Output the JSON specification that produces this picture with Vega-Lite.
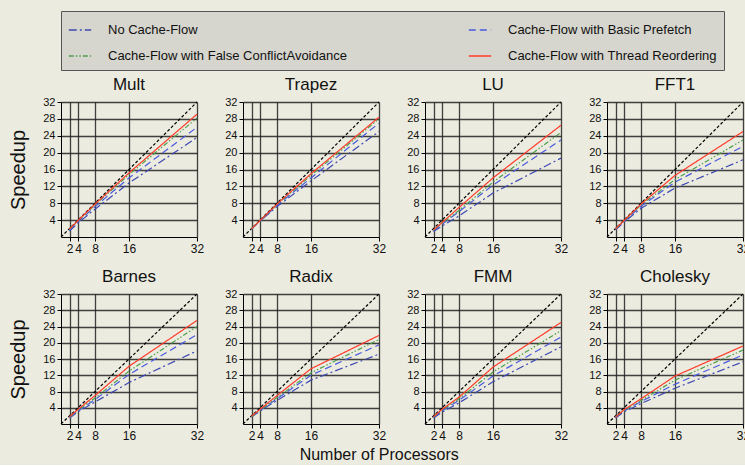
{
"$schema":"https://vega.github.io/schema/vega-lite/v6.json",
"background":"#ECEBDF",
"padding":{"left":8,"top":10,"right":0,"bottom":2},
"title":{"text":"Number of Processors","orient":"bottom","anchor":"middle","fontSize":16,"fontWeight":"normal","font":"Liberation Sans","color":"#111","offset":6},
"datasets":{
"ideal":[{"x":0,"y":0},{"x":32,"y":32}],
"perf":[
{"b":"Mult","s":"N","x":2,"y":1.4},{"b":"Mult","s":"N","x":4,"y":3.3},{"b":"Mult","s":"N","x":8,"y":6.6},{"b":"Mult","s":"N","x":16,"y":12.8},{"b":"Mult","s":"N","x":32,"y":23.6},
{"b":"Mult","s":"P","x":2,"y":1.6},{"b":"Mult","s":"P","x":4,"y":3.6},{"b":"Mult","s":"P","x":8,"y":7.2},{"b":"Mult","s":"P","x":16,"y":14},{"b":"Mult","s":"P","x":32,"y":26},
{"b":"Mult","s":"F","x":2,"y":1.8},{"b":"Mult","s":"F","x":4,"y":3.8},{"b":"Mult","s":"F","x":8,"y":7.6},{"b":"Mult","s":"F","x":16,"y":14.8},{"b":"Mult","s":"F","x":32,"y":28.2},
{"b":"Mult","s":"T","x":2,"y":1.9},{"b":"Mult","s":"T","x":4,"y":3.9},{"b":"Mult","s":"T","x":8,"y":7.8},{"b":"Mult","s":"T","x":16,"y":15.2},{"b":"Mult","s":"T","x":32,"y":29.1},
{"b":"Trapez","s":"N","x":2,"y":1.9},{"b":"Trapez","s":"N","x":4,"y":3.8},{"b":"Trapez","s":"N","x":8,"y":7.2},{"b":"Trapez","s":"N","x":16,"y":13.3},{"b":"Trapez","s":"N","x":32,"y":25},
{"b":"Trapez","s":"P","x":2,"y":1.9},{"b":"Trapez","s":"P","x":4,"y":3.8},{"b":"Trapez","s":"P","x":8,"y":7.5},{"b":"Trapez","s":"P","x":16,"y":14},{"b":"Trapez","s":"P","x":32,"y":27},
{"b":"Trapez","s":"F","x":2,"y":1.95},{"b":"Trapez","s":"F","x":4,"y":3.9},{"b":"Trapez","s":"F","x":8,"y":7.7},{"b":"Trapez","s":"F","x":16,"y":14.6},{"b":"Trapez","s":"F","x":32,"y":28},
{"b":"Trapez","s":"T","x":2,"y":1.95},{"b":"Trapez","s":"T","x":4,"y":3.9},{"b":"Trapez","s":"T","x":8,"y":7.8},{"b":"Trapez","s":"T","x":16,"y":15},{"b":"Trapez","s":"T","x":32,"y":28.4},
{"b":"LU","s":"N","x":2,"y":1.3},{"b":"LU","s":"N","x":4,"y":2.6},{"b":"LU","s":"N","x":8,"y":5.0},{"b":"LU","s":"N","x":16,"y":10.4},{"b":"LU","s":"N","x":32,"y":18.7},
{"b":"LU","s":"P","x":2,"y":1.5},{"b":"LU","s":"P","x":4,"y":3.0},{"b":"LU","s":"P","x":8,"y":6.0},{"b":"LU","s":"P","x":16,"y":12.3},{"b":"LU","s":"P","x":32,"y":23},
{"b":"LU","s":"F","x":2,"y":1.6},{"b":"LU","s":"F","x":4,"y":3.2},{"b":"LU","s":"F","x":8,"y":6.3},{"b":"LU","s":"F","x":16,"y":13},{"b":"LU","s":"F","x":32,"y":24.8},
{"b":"LU","s":"T","x":2,"y":1.7},{"b":"LU","s":"T","x":4,"y":3.4},{"b":"LU","s":"T","x":8,"y":7},{"b":"LU","s":"T","x":16,"y":14},{"b":"LU","s":"T","x":32,"y":26.5},
{"b":"FFT1","s":"N","x":2,"y":1.7},{"b":"FFT1","s":"N","x":4,"y":3.5},{"b":"FFT1","s":"N","x":8,"y":6.8},{"b":"FFT1","s":"N","x":16,"y":11.6},{"b":"FFT1","s":"N","x":32,"y":18.3},
{"b":"FFT1","s":"P","x":2,"y":1.8},{"b":"FFT1","s":"P","x":4,"y":3.7},{"b":"FFT1","s":"P","x":8,"y":7.3},{"b":"FFT1","s":"P","x":16,"y":13},{"b":"FFT1","s":"P","x":32,"y":21.5},
{"b":"FFT1","s":"F","x":2,"y":1.9},{"b":"FFT1","s":"F","x":4,"y":3.8},{"b":"FFT1","s":"F","x":8,"y":7.6},{"b":"FFT1","s":"F","x":16,"y":13.6},{"b":"FFT1","s":"F","x":32,"y":23},
{"b":"FFT1","s":"T","x":2,"y":1.9},{"b":"FFT1","s":"T","x":4,"y":3.9},{"b":"FFT1","s":"T","x":8,"y":7.8},{"b":"FFT1","s":"T","x":16,"y":14.6},{"b":"FFT1","s":"T","x":32,"y":25},
{"b":"Barnes","s":"N","x":2,"y":1.5},{"b":"Barnes","s":"N","x":4,"y":3.0},{"b":"Barnes","s":"N","x":8,"y":5.4},{"b":"Barnes","s":"N","x":16,"y":10.2},{"b":"Barnes","s":"N","x":32,"y":18},
{"b":"Barnes","s":"P","x":2,"y":1.6},{"b":"Barnes","s":"P","x":4,"y":3.2},{"b":"Barnes","s":"P","x":8,"y":6.0},{"b":"Barnes","s":"P","x":16,"y":12.2},{"b":"Barnes","s":"P","x":32,"y":22},
{"b":"Barnes","s":"F","x":2,"y":1.7},{"b":"Barnes","s":"F","x":4,"y":3.4},{"b":"Barnes","s":"F","x":8,"y":6.4},{"b":"Barnes","s":"F","x":16,"y":13},{"b":"Barnes","s":"F","x":32,"y":24},
{"b":"Barnes","s":"T","x":2,"y":1.8},{"b":"Barnes","s":"T","x":4,"y":3.6},{"b":"Barnes","s":"T","x":8,"y":7},{"b":"Barnes","s":"T","x":16,"y":14.2},{"b":"Barnes","s":"T","x":32,"y":25.5},
{"b":"Radix","s":"N","x":2,"y":1.7},{"b":"Radix","s":"N","x":4,"y":3.2},{"b":"Radix","s":"N","x":8,"y":5.8},{"b":"Radix","s":"N","x":16,"y":10.8},{"b":"Radix","s":"N","x":32,"y":17.2},
{"b":"Radix","s":"P","x":2,"y":1.8},{"b":"Radix","s":"P","x":4,"y":3.3},{"b":"Radix","s":"P","x":8,"y":6.2},{"b":"Radix","s":"P","x":16,"y":12},{"b":"Radix","s":"P","x":32,"y":19.5},
{"b":"Radix","s":"F","x":2,"y":1.8},{"b":"Radix","s":"F","x":4,"y":3.4},{"b":"Radix","s":"F","x":8,"y":6.5},{"b":"Radix","s":"F","x":16,"y":12.6},{"b":"Radix","s":"F","x":32,"y":20.8},
{"b":"Radix","s":"T","x":2,"y":1.9},{"b":"Radix","s":"T","x":4,"y":3.6},{"b":"Radix","s":"T","x":8,"y":7},{"b":"Radix","s":"T","x":16,"y":13.6},{"b":"Radix","s":"T","x":32,"y":21.8},
{"b":"FMM","s":"N","x":2,"y":1.5},{"b":"FMM","s":"N","x":4,"y":2.9},{"b":"FMM","s":"N","x":8,"y":5.2},{"b":"FMM","s":"N","x":16,"y":10.4},{"b":"FMM","s":"N","x":32,"y":19},
{"b":"FMM","s":"P","x":2,"y":1.6},{"b":"FMM","s":"P","x":4,"y":3.2},{"b":"FMM","s":"P","x":8,"y":5.8},{"b":"FMM","s":"P","x":16,"y":11.8},{"b":"FMM","s":"P","x":32,"y":21.4},
{"b":"FMM","s":"F","x":2,"y":1.7},{"b":"FMM","s":"F","x":4,"y":3.4},{"b":"FMM","s":"F","x":8,"y":6.2},{"b":"FMM","s":"F","x":16,"y":12.8},{"b":"FMM","s":"F","x":32,"y":23},
{"b":"FMM","s":"T","x":2,"y":1.8},{"b":"FMM","s":"T","x":4,"y":3.6},{"b":"FMM","s":"T","x":8,"y":6.6},{"b":"FMM","s":"T","x":16,"y":14},{"b":"FMM","s":"T","x":32,"y":25},
{"b":"Cholesky","s":"N","x":2,"y":1.5},{"b":"Cholesky","s":"N","x":4,"y":3.0},{"b":"Cholesky","s":"N","x":8,"y":5.0},{"b":"Cholesky","s":"N","x":16,"y":8.8},{"b":"Cholesky","s":"N","x":32,"y":15.3},
{"b":"Cholesky","s":"P","x":2,"y":1.6},{"b":"Cholesky","s":"P","x":4,"y":3.2},{"b":"Cholesky","s":"P","x":8,"y":5.5},{"b":"Cholesky","s":"P","x":16,"y":9.8},{"b":"Cholesky","s":"P","x":32,"y":17},
{"b":"Cholesky","s":"F","x":2,"y":1.7},{"b":"Cholesky","s":"F","x":4,"y":3.3},{"b":"Cholesky","s":"F","x":8,"y":5.8},{"b":"Cholesky","s":"F","x":16,"y":10.8},{"b":"Cholesky","s":"F","x":32,"y":18.2},
{"b":"Cholesky","s":"T","x":2,"y":1.7},{"b":"Cholesky","s":"T","x":4,"y":3.5},{"b":"Cholesky","s":"T","x":8,"y":6.2},{"b":"Cholesky","s":"T","x":16,"y":11.8},{"b":"Cholesky","s":"T","x":32,"y":19.2}
]},
"vconcat":[
{"hconcat":[
{"title":"Mult","width":136,"height":135,"layer":[
{"data":{"name":"ideal"},"mark":{"type":"line","color":"#000","strokeDash":[3,2],"strokeWidth":1.2},"encoding":{"x":{"field":"x","type":"quantitative","scale":{"domain":[0,32],"nice":false},"axis":{"values":[2,4,8,16,32],"tickCount":20,"title":null,"labelOverlap":false}},"y":{"field":"y","type":"quantitative","scale":{"domain":[0,32],"nice":false},"axis":{"values":[4,8,12,16,20,24,28,32],"tickCount":20,"title":"Speedup","titlePadding":14,"labelOverlap":false}}}},
{"data":{"name":"perf"},"transform":[{"filter":"datum.b==='Mult'"}],"mark":{"type":"line","strokeWidth":1.2},"encoding":{"x":{"field":"x","type":"quantitative"},"y":{"field":"y","type":"quantitative"},"color":{"field":"s","type":"nominal","title":null,"scale":{"domain":["N","P","F","T"],"range":["#3D49B3","#4A5AE0","#4E9E4E","#FF3B2A"]},"legend":{"orient":"top","direction":"horizontal","columns":2,"offset":6,"labelExpr":"{'N':'No Cache-Flow','P':'Cache-Flow with Basic Prefetch','F':'Cache-Flow with False ConflictAvoidance','T':'Cache-Flow with Thread Reordering'}[datum.label]"}},"strokeDash":{"field":"s","type":"nominal","title":null,"scale":{"domain":["N","P","F","T"],"range":[[8,3,2,3],[7,4],[5,2,1.5,2,1.5,2],[1,0]]},"legend":{"orient":"top","direction":"horizontal","columns":2,"offset":6,"labelExpr":"{'N':'No Cache-Flow','P':'Cache-Flow with Basic Prefetch','F':'Cache-Flow with False ConflictAvoidance','T':'Cache-Flow with Thread Reordering'}[datum.label]"}}}}]},
{"title":"Trapez","width":136,"height":135,"layer":[
{"data":{"name":"ideal"},"mark":{"type":"line","color":"#000","strokeDash":[3,2],"strokeWidth":1.2},"encoding":{"x":{"field":"x","type":"quantitative","scale":{"domain":[0,32],"nice":false},"axis":{"values":[2,4,8,16,32],"tickCount":20,"title":null,"labelOverlap":false}},"y":{"field":"y","type":"quantitative","scale":{"domain":[0,32],"nice":false},"axis":{"values":[4,8,12,16,20,24,28,32],"tickCount":20,"title":null,"labelOverlap":false}}}},
{"data":{"name":"perf"},"transform":[{"filter":"datum.b==='Trapez'"}],"mark":{"type":"line","strokeWidth":1.2},"encoding":{"x":{"field":"x","type":"quantitative"},"y":{"field":"y","type":"quantitative"},"color":{"field":"s","type":"nominal","title":null},"strokeDash":{"field":"s","type":"nominal","title":null}}}]},
{"title":"LU","width":136,"height":135,"layer":[
{"data":{"name":"ideal"},"mark":{"type":"line","color":"#000","strokeDash":[3,2],"strokeWidth":1.2},"encoding":{"x":{"field":"x","type":"quantitative","scale":{"domain":[0,32],"nice":false},"axis":{"values":[2,4,8,16,32],"tickCount":20,"title":null,"labelOverlap":false}},"y":{"field":"y","type":"quantitative","scale":{"domain":[0,32],"nice":false},"axis":{"values":[4,8,12,16,20,24,28,32],"tickCount":20,"title":null,"labelOverlap":false}}}},
{"data":{"name":"perf"},"transform":[{"filter":"datum.b==='LU'"}],"mark":{"type":"line","strokeWidth":1.2},"encoding":{"x":{"field":"x","type":"quantitative"},"y":{"field":"y","type":"quantitative"},"color":{"field":"s","type":"nominal","title":null},"strokeDash":{"field":"s","type":"nominal","title":null}}}]},
{"title":"FFT1","width":136,"height":135,"layer":[
{"data":{"name":"ideal"},"mark":{"type":"line","color":"#000","strokeDash":[3,2],"strokeWidth":1.2},"encoding":{"x":{"field":"x","type":"quantitative","scale":{"domain":[0,32],"nice":false},"axis":{"values":[2,4,8,16,32],"tickCount":20,"title":null,"labelOverlap":false}},"y":{"field":"y","type":"quantitative","scale":{"domain":[0,32],"nice":false},"axis":{"values":[4,8,12,16,20,24,28,32],"tickCount":20,"title":null,"labelOverlap":false}}}},
{"data":{"name":"perf"},"transform":[{"filter":"datum.b==='FFT1'"}],"mark":{"type":"line","strokeWidth":1.2},"encoding":{"x":{"field":"x","type":"quantitative"},"y":{"field":"y","type":"quantitative"},"color":{"field":"s","type":"nominal","title":null},"strokeDash":{"field":"s","type":"nominal","title":null}}}]}
]},
{"hconcat":[
{"title":"Barnes","width":136,"height":130,"layer":[
{"data":{"name":"ideal"},"mark":{"type":"line","color":"#000","strokeDash":[3,2],"strokeWidth":1.2},"encoding":{"x":{"field":"x","type":"quantitative","scale":{"domain":[0,32],"nice":false},"axis":{"values":[2,4,8,16,32],"tickCount":20,"title":null,"labelOverlap":false}},"y":{"field":"y","type":"quantitative","scale":{"domain":[0,32],"nice":false},"axis":{"values":[4,8,12,16,20,24,28,32],"tickCount":20,"title":"Speedup","titlePadding":14,"labelOverlap":false}}}},
{"data":{"name":"perf"},"transform":[{"filter":"datum.b==='Barnes'"}],"mark":{"type":"line","strokeWidth":1.2},"encoding":{"x":{"field":"x","type":"quantitative"},"y":{"field":"y","type":"quantitative"},"color":{"field":"s","type":"nominal","title":null},"strokeDash":{"field":"s","type":"nominal","title":null}}}]},
{"title":"Radix","width":136,"height":130,"layer":[
{"data":{"name":"ideal"},"mark":{"type":"line","color":"#000","strokeDash":[3,2],"strokeWidth":1.2},"encoding":{"x":{"field":"x","type":"quantitative","scale":{"domain":[0,32],"nice":false},"axis":{"values":[2,4,8,16,32],"tickCount":20,"title":null,"labelOverlap":false}},"y":{"field":"y","type":"quantitative","scale":{"domain":[0,32],"nice":false},"axis":{"values":[4,8,12,16,20,24,28,32],"tickCount":20,"title":null,"labelOverlap":false}}}},
{"data":{"name":"perf"},"transform":[{"filter":"datum.b==='Radix'"}],"mark":{"type":"line","strokeWidth":1.2},"encoding":{"x":{"field":"x","type":"quantitative"},"y":{"field":"y","type":"quantitative"},"color":{"field":"s","type":"nominal","title":null},"strokeDash":{"field":"s","type":"nominal","title":null}}}]},
{"title":"FMM","width":136,"height":130,"layer":[
{"data":{"name":"ideal"},"mark":{"type":"line","color":"#000","strokeDash":[3,2],"strokeWidth":1.2},"encoding":{"x":{"field":"x","type":"quantitative","scale":{"domain":[0,32],"nice":false},"axis":{"values":[2,4,8,16,32],"tickCount":20,"title":null,"labelOverlap":false}},"y":{"field":"y","type":"quantitative","scale":{"domain":[0,32],"nice":false},"axis":{"values":[4,8,12,16,20,24,28,32],"tickCount":20,"title":null,"labelOverlap":false}}}},
{"data":{"name":"perf"},"transform":[{"filter":"datum.b==='FMM'"}],"mark":{"type":"line","strokeWidth":1.2},"encoding":{"x":{"field":"x","type":"quantitative"},"y":{"field":"y","type":"quantitative"},"color":{"field":"s","type":"nominal","title":null},"strokeDash":{"field":"s","type":"nominal","title":null}}}]},
{"title":"Cholesky","width":136,"height":130,"layer":[
{"data":{"name":"ideal"},"mark":{"type":"line","color":"#000","strokeDash":[3,2],"strokeWidth":1.2},"encoding":{"x":{"field":"x","type":"quantitative","scale":{"domain":[0,32],"nice":false},"axis":{"values":[2,4,8,16,32],"tickCount":20,"title":null,"labelOverlap":false}},"y":{"field":"y","type":"quantitative","scale":{"domain":[0,32],"nice":false},"axis":{"values":[4,8,12,16,20,24,28,32],"tickCount":20,"title":null,"labelOverlap":false}}}},
{"data":{"name":"perf"},"transform":[{"filter":"datum.b==='Cholesky'"}],"mark":{"type":"line","strokeWidth":1.2},"encoding":{"x":{"field":"x","type":"quantitative"},"y":{"field":"y","type":"quantitative"},"color":{"field":"s","type":"nominal","title":null},"strokeDash":{"field":"s","type":"nominal","title":null}}}]}
]}
],
"spacing":14,
"config":{
"font":"Liberation Sans",
"concat":{"spacing":20},
"view":{"stroke":null},
"title":{"fontSize":17,"fontWeight":"normal","color":"#111","offset":2},
"axis":{"grid":true,"gridColor":"#222","gridWidth":1.3,"gridOpacity":0.85,"domainColor":"#000","tickColor":"#000","labelColor":"#111","labelFontSize":11,"tickSize":4,"titleFontSize":20,"titleFontWeight":"normal","titleColor":"#111","labelPadding":2,"labelOverlap":false,"labelFlush":false},
"axisX":{"labelFontSize":12},
"legend":{"symbolType":"stroke","symbolSize":500,"symbolStrokeWidth":1.5,"labelFontSize":13,"labelColor":"#111","fillColor":"#D6D6CE","strokeColor":"#555","padding":7,"columnPadding":118,"rowPadding":7,"labelOffset":16,"labelLimit":300}
}
}
